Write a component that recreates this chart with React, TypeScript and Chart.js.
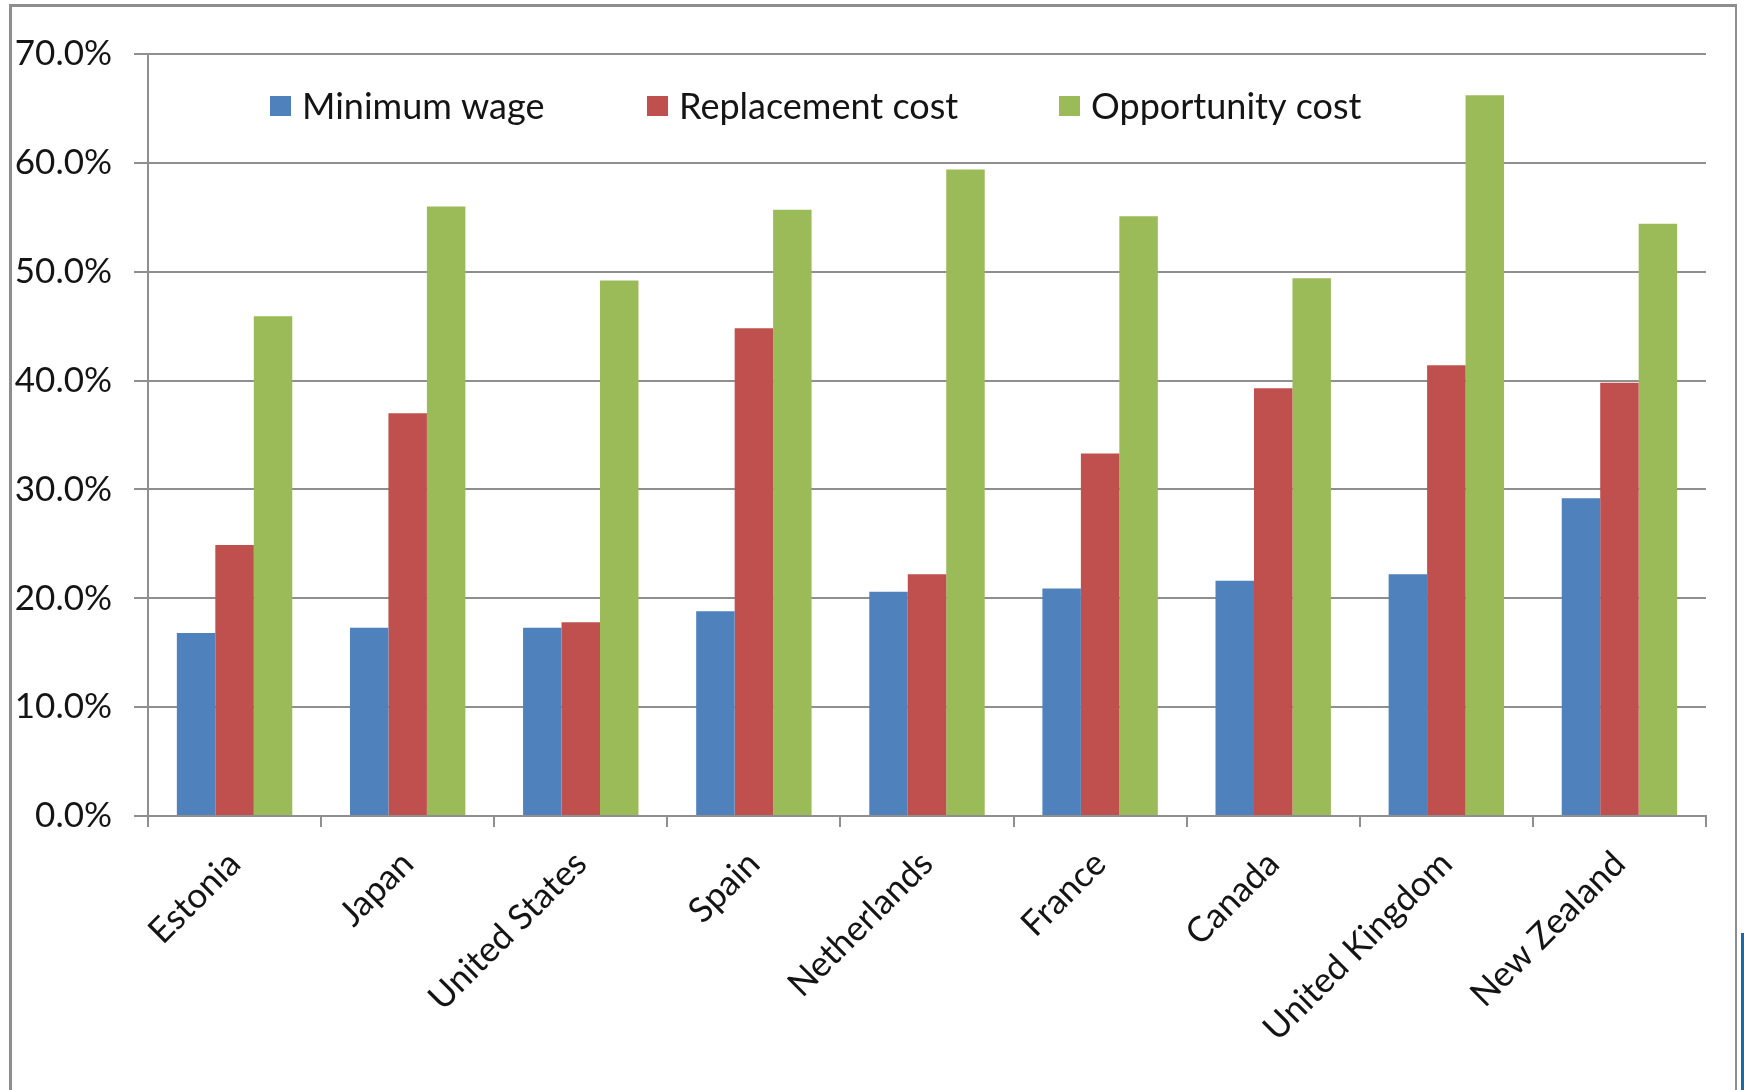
import React, { useEffect, useRef } from "react";
import { Chart, registerables } from "chart.js";

Chart.register(...registerables);

const countries = [
  "Estonia",
  "Japan",
  "United States",
  "Spain",
  "Netherlands",
  "France",
  "Canada",
  "United Kingdom",
  "New Zealand",
];
const minimumWage = [16.8, 17.3, 17.3, 18.8, 20.6, 20.9, 21.6, 22.2, 29.2];
const replacementCost = [24.9, 37.0, 17.8, 44.8, 22.2, 33.3, 39.3, 41.4, 39.8];
const opportunityCost = [45.9, 56.0, 49.2, 55.7, 59.4, 55.1, 49.4, 66.2, 54.4];
const seriesNames = ["Minimum wage", "Replacement cost", "Opportunity cost"];
const seriesColors = ["#4F81BD", "#C0504D", "#9BBB59"];
const yMin = 0;
const yMax = 70;
const yStep = 10;

const FONT = "Lato, 'Open Sans', sans-serif";
const TEXT = "#141414";
const GRID = "#8f8f8f";

const insideLegend = {
  id: "insideLegend",
  afterDatasetsDraw(chart: any) {
    const { ctx, chartArea } = chart;
    const offsets = [122, 499, 911];
    const cy = chartArea.top + 52;
    ctx.save();
    ctx.font = `36px ${FONT}`;
    ctx.textBaseline = "middle";
    ctx.textAlign = "left";
    chart.data.datasets.forEach((ds: any, i: number) => {
      const x = chartArea.left + offsets[i];
      ctx.fillStyle = ds.backgroundColor;
      ctx.fillRect(x, cy - 10, 21, 20);
      ctx.fillStyle = TEXT;
      ctx.fillText(ds.label, x + 32, cy + 1);
    });
    ctx.restore();
  },
};

export default function App() {
  const ref = useRef<HTMLCanvasElement | null>(null);

  useEffect(() => {
    if (!ref.current) return;
    const chart = new Chart(ref.current, {
      type: "bar",
      data: {
        labels: countries,
        datasets: [minimumWage, replacementCost, opportunityCost].map((d, i) => ({
          label: seriesNames[i],
          data: d,
          backgroundColor: seriesColors[i],
          borderWidth: 0,
          categoryPercentage: 2 / 3,
          barPercentage: 1,
        })),
      },
      options: {
        responsive: false,
        animation: false,
        layout: { padding: { left: 0, top: 54, right: 38, bottom: 0 } },
        plugins: {
          legend: { display: false },
          tooltip: { enabled: false },
          title: { display: false },
        },
        scales: {
          x: {
            grid: {
              offset: true,
              drawOnChartArea: false,
              drawTicks: true,
              tickLength: 11,
              color: GRID,
              lineWidth: 2,
            },
            border: { display: true, color: GRID, width: 2 },
            ticks: {
              minRotation: 45,
              maxRotation: 45,
              autoSkip: false,
              padding: 16,
              color: TEXT,
              font: { family: FONT, size: 35 },
            },
            afterFit: (scale: any) => {
              scale.height = 274;
            },
          },
          y: {
            min: yMin,
            max: yMax,
            grid: {
              color: GRID,
              lineWidth: 2,
              drawTicks: true,
              tickLength: 14,
            },
            border: { display: true, color: GRID, width: 2 },
            ticks: {
              stepSize: yStep,
              padding: 22,
              color: TEXT,
              font: { family: FONT, size: 35 },
              callback: (v: any) => Number(v).toFixed(1) + "%",
            },
            afterFit: (scale: any) => {
              scale.width = 148;
            },
          },
        },
      },
      plugins: [insideLegend],
    });
    return () => chart.destroy();
  }, []);

  return (
    <div
      style={{
        position: "fixed",
        left: 0,
        top: 0,
        width: 1744,
        height: 1090,
        overflow: "hidden",
        background: "#ffffff",
      }}
    >
      <div
        style={{
          position: "absolute",
          left: 9,
          top: 4,
          width: 1728,
          height: 1200,
          borderLeft: "3px solid #8e8e8e",
          borderTop: "3px solid #8e8e8e",
          borderRight: "2px solid #8e8e8e",
          boxSizing: "border-box",
        }}
      />
      <div
        style={{
          position: "absolute",
          left: 1741,
          top: 933,
          width: 3,
          height: 157,
          background: "#1f69a3",
        }}
      />
      <canvas
        ref={ref}
        width={1744}
        height={1090}
        style={{ position: "absolute", left: 0, top: 0, width: 1744, height: 1090 }}
      />
    </div>
  );
}
